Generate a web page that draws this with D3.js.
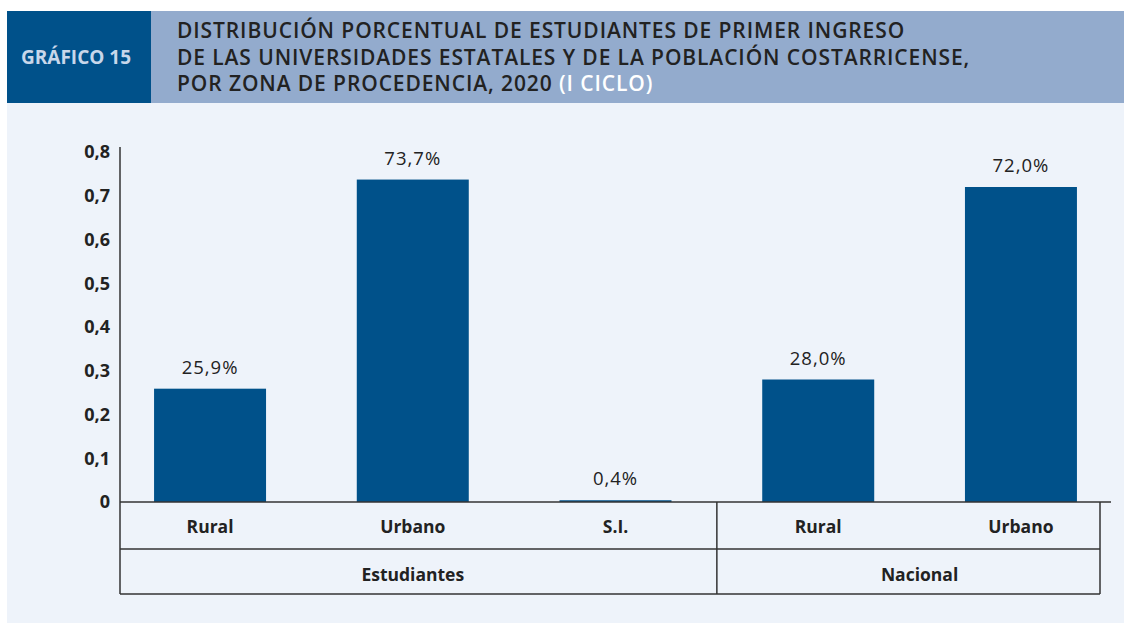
<!DOCTYPE html>
<html>
<head>
<meta charset="utf-8">
<script src="https://cdn.jsdelivr.net/npm/d3@7"></script>
<style>
  body { margin: 0; background: #fff; }
  svg { display: block; font-family: "Open Sans", sans-serif; }
</style>
</head>
<body>
<div id="graf"></div>
<script>
const zonas = ["Rural", "Urbano", "S.I.", "Rural", "Urbano"]
const grupos = ["Estudiantes", "Estudiantes", "Estudiantes", "Nacional", "Nacional"]
const valores = [0.259, 0.737, 0.004, 0.28, 0.72]
const ticksY = [0, 0.1, 0.2, 0.3, 0.4, 0.5, 0.6, 0.7, 0.8]
const tituloLineas = [
  "DISTRIBUCIÓN PORCENTUAL DE ESTUDIANTES DE PRIMER INGRESO",
  "DE LAS UNIVERSIDADES ESTATALES Y DE LA POBLACIÓN COSTARRICENSE,",
  "POR ZONA DE PROCEDENCIA, 2020",
]

const ancho = 1124
const alto = 623
const azul = "#00518a"
const linea = "#333"

const es = d3.formatLocale({ decimal: ",", thousands: ".", grouping: [3], currency: ["", ""] })
const fmtPct = es.format(".1%")
const fmtTick = (d) => (d === 0 ? "0" : es.format(".1f")(d))

const svg = d3.select("#graf").append("svg").attr("width", ancho).attr("height", alto)

// fondo y cabecera
svg.append("rect").attr("x", 7).attr("y", 103).attr("width", ancho - 7).attr("height", alto - 103).attr("fill", "#eef3fa")
svg.append("rect").attr("x", 7).attr("y", 11).attr("width", 144).attr("height", 92).attr("fill", "#00518a")
svg.append("rect").attr("x", 151).attr("y", 11).attr("width", ancho - 151).attr("height", 92).attr("fill", "#93abcd")

svg.append("text")
  .attr("x", 21).attr("y", 64)
  .attr("font-size", 19).attr("font-weight", 700)
  .attr("fill", "#c8d7ea")
  .text("GRÁFICO 15")

const titulo = svg.append("text")
  .attr("font-size", 21).attr("font-weight", 600)
  .attr("letter-spacing", 0.9)
  .attr("fill", "#222")

tituloLineas.forEach((t, i) => {
  titulo.append("tspan").attr("x", 177).attr("y", 38 + i * 26.5).text(t)
  if (i === tituloLineas.length - 1) {
    titulo.append("tspan").attr("fill", "#fff").text(" (I CICLO)")
  }
})

// escalas
const x = d3.scaleBand()
  .domain(d3.range(zonas.length))
  .range([120, 1111])
  .paddingInner(0.4476)
  .paddingOuter(0.168)

const y = d3.scaleLinear().domain([0, 0.8]).range([502, 152])

// eje y
const ejeY = svg.append("g").attr("transform", "translate(120,0)")
  .call(d3.axisLeft(y).tickValues(ticksY).tickFormat(fmtTick).tickSize(0).tickPadding(10))
ejeY.select(".domain").remove()
ejeY.selectAll("text")
  .attr("font-size", 18).attr("font-weight", 700)
  .attr("fill", "#222").attr("font-family", "Open Sans, sans-serif")

// barras
svg.append("g").selectAll("rect")
  .data(valores)
  .join("rect")
  .attr("x", (d, i) => x(i))
  .attr("y", (d) => y(d))
  .attr("width", x.bandwidth())
  .attr("height", (d) => y(0) - y(d))
  .attr("fill", azul)

svg.append("g").selectAll("text")
  .data(valores)
  .join("text")
  .attr("x", (d, i) => x(i) + x.bandwidth() / 2)
  .attr("y", (d) => y(d) - 15)
  .attr("text-anchor", "middle")
  .attr("font-size", 18.5)
  .attr("letter-spacing", 1)
  .attr("fill", "#222")
  .text((d) => fmtPct(d))

// tabla de categorías
const fila1 = 549
const fila2 = 594
const derecha = x.range()[1] - 11
const corte = (x(2) + x.bandwidth() + x(3)) / 2

const lineas = [
  [x.range()[0], y(0), x.range()[1], y(0)],
  [120, y(0.8) - 5, 120, fila2],
  [120, fila1, derecha, fila1],
  [120, fila2, derecha, fila2],
  [corte, y(0), corte, fila2],
  [derecha, y(0), derecha, fila2],
]
svg.append("g").selectAll("line")
  .data(lineas)
  .join("line")
  .attr("x1", (d) => d[0]).attr("y1", (d) => d[1])
  .attr("x2", (d) => d[2]).attr("y2", (d) => d[3])
  .attr("stroke", linea).attr("stroke-width", 1.5)

svg.append("g").selectAll("text")
  .data(zonas)
  .join("text")
  .attr("x", (d, i) => x(i) + x.bandwidth() / 2)
  .attr("y", 533)
  .attr("text-anchor", "middle")
  .attr("font-size", 17.5).attr("font-weight", 700)
  .attr("fill", "#222")
  .text((d) => d)

const nombresGrupo = Array.from(new Set(grupos))
svg.append("g").selectAll("text")
  .data(nombresGrupo)
  .join("text")
  .attr("x", (g) => {
    const idx = d3.range(grupos.length).filter((i) => grupos[i] === g)
    return d3.mean(idx, (i) => x(i) + x.bandwidth() / 2)
  })
  .attr("y", 581)
  .attr("text-anchor", "middle")
  .attr("font-size", 17.5).attr("font-weight", 700)
  .attr("fill", "#222")
  .text((d) => d)
</script>
</body>
</html>
